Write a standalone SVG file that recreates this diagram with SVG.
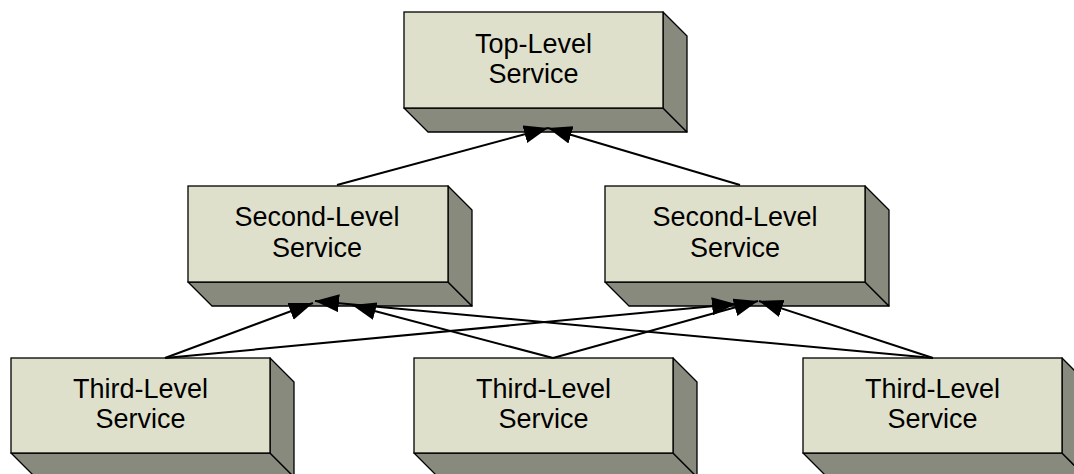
<svg xmlns="http://www.w3.org/2000/svg" width="1074" height="474" viewBox="0 0 1074 474">
  <style>
    .front { fill: #dfe0cb; stroke: #000; stroke-width: 1.3; }
    .shade { fill: #878a7d; stroke: #000; stroke-width: 1.3; stroke-linejoin: round; }
    .label { font-family: "Liberation Sans", Arial, sans-serif; font-size: 27px; fill: #000; text-anchor: middle; }
    .link { stroke: #000; stroke-width: 2; fill: none; marker-end: url(#head); }
  </style>
  <defs>
    <marker id="head" markerUnits="userSpaceOnUse" markerWidth="26" markerHeight="20" refX="24" refY="9" orient="auto">
      <path d="M0,0 L24,9 L0,18 Z" fill="#000"/>
    </marker>
  </defs>
  <rect width="1074" height="474" fill="#fff"/>

  <!-- service blocks: front face, bottom face and right face with a 24px depth -->
  <g id="top-level">
    <polygon class="shade" points="404,108 428,132 687,132 663,108"/>
    <polygon class="shade" points="663,12 687,36 687,132 663,108"/>
    <rect class="front" x="404" y="12" width="259" height="96"/>
    <text class="label" x="533.5" y="53">Top-Level</text>
    <text class="label" x="533.5" y="83">Service</text>
  </g>

  <g id="second-left">
    <polygon class="shade" points="188,282 212,306 472,306 448,282"/>
    <polygon class="shade" points="448,186 472,210 472,306 448,282"/>
    <rect class="front" x="188" y="186" width="260" height="96"/>
    <text class="label" x="317" y="226">Second-Level</text>
    <text class="label" x="317" y="257">Service</text>
  </g>

  <g id="second-right">
    <polygon class="shade" points="605,282 629,306 889,306 865,282"/>
    <polygon class="shade" points="865,186 889,210 889,306 865,282"/>
    <rect class="front" x="605" y="186" width="260" height="96"/>
    <text class="label" x="735" y="226">Second-Level</text>
    <text class="label" x="735" y="257">Service</text>
  </g>

  <g id="third-left">
    <polygon class="shade" points="11,453 35,477 294,477 270,453"/>
    <polygon class="shade" points="270,358 294,382 294,477 270,453"/>
    <rect class="front" x="11" y="358" width="259" height="95"/>
    <text class="label" x="140.5" y="398">Third-Level</text>
    <text class="label" x="140.5" y="428">Service</text>
  </g>

  <g id="third-middle">
    <polygon class="shade" points="414,453 438,477 697,477 673,453"/>
    <polygon class="shade" points="673,358 697,382 697,477 673,453"/>
    <rect class="front" x="414" y="358" width="259" height="95"/>
    <text class="label" x="543.5" y="398">Third-Level</text>
    <text class="label" x="543.5" y="428">Service</text>
  </g>

  <g id="third-right">
    <polygon class="shade" points="803,453 827,477 1086,477 1062,453"/>
    <polygon class="shade" points="1062,358 1086,382 1086,477 1062,453"/>
    <rect class="front" x="803" y="358" width="259" height="95"/>
    <text class="label" x="932.5" y="398">Third-Level</text>
    <text class="label" x="932.5" y="428">Service</text>
  </g>

  <!-- dependency connectors -->
  <g id="connectors">
    <line class="link" x1="337" y1="185" x2="548" y2="128"/>
    <line class="link" x1="740" y1="185" x2="548" y2="128"/>

    <line class="link" x1="165" y1="358" x2="313" y2="303"/>
    <line class="link" x1="165" y1="358" x2="736" y2="304"/>

    <line class="link" x1="553" y1="358" x2="352" y2="305"/>
    <line class="link" x1="553" y1="358" x2="758" y2="301"/>

    <line class="link" x1="933" y1="358" x2="315" y2="301"/>
    <line class="link" x1="933" y1="358" x2="759" y2="301"/>
  </g>
</svg>
